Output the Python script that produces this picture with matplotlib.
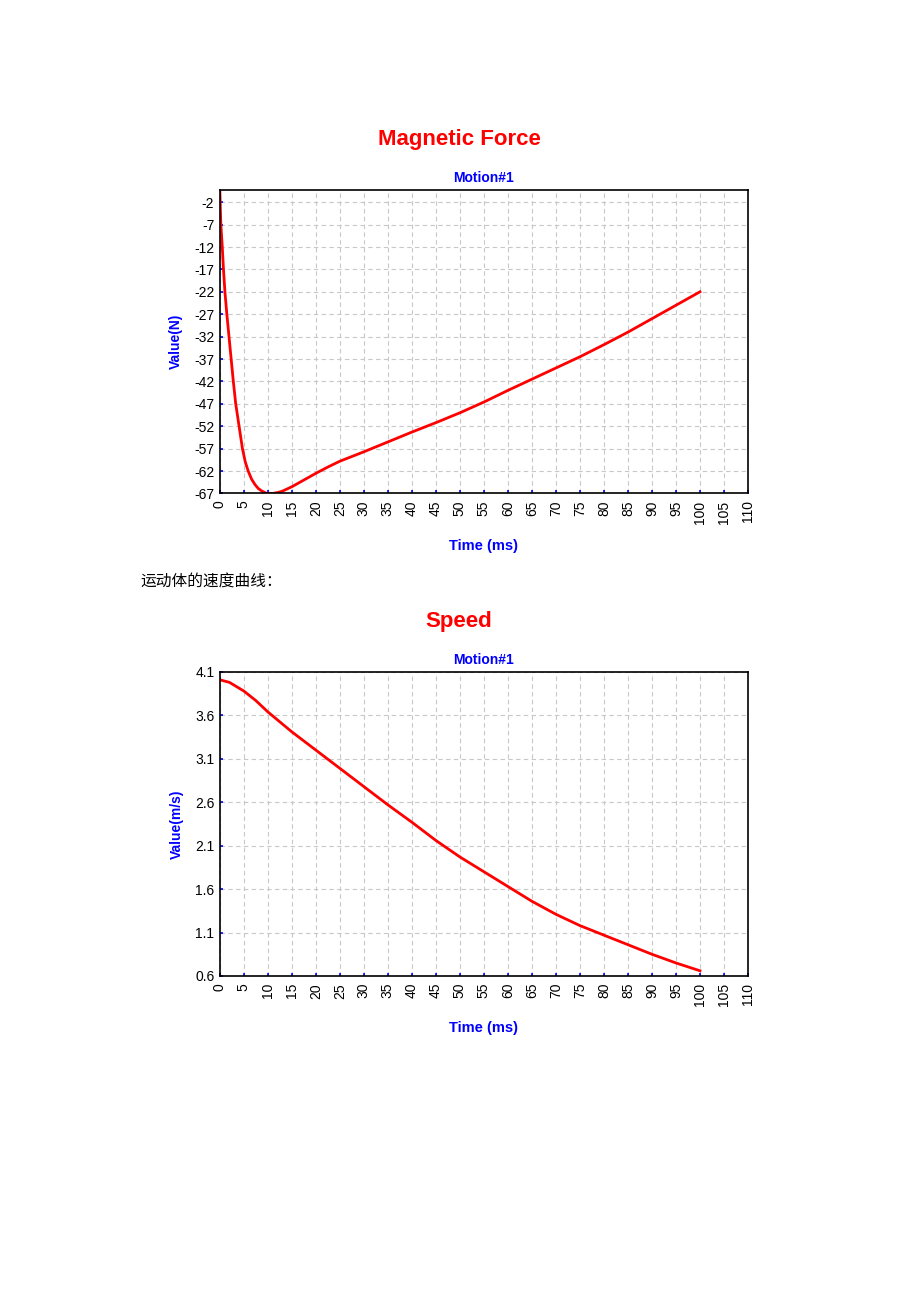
import numpy as np
import matplotlib
matplotlib.use("Agg")
import matplotlib.pyplot as plt

plt.rcParams['font.family'] = ['Liberation Sans', 'DejaVu Sans']

# -------- data --------
force_t = [0, 0.2, 0.5, 0.75, 1.05, 1.45, 1.9, 2.35, 2.8, 3.3, 4.0, 4.7, 5.3, 5.9,
           6.6, 7.3, 8.0, 8.8, 9.8, 11, 12, 13, 15, 17.5, 20, 22.5, 25, 30, 35,
           40, 45, 50, 55, 60, 65, 70, 75, 80, 85, 90, 95, 100]
force_v = [0.2, -7, -12, -17, -22, -27, -32, -37, -42, -47, -52, -57, -60, -62,
           -63.8, -65, -65.9, -66.5, -67, -67, -66.8, -66.5, -65.5, -64, -62.5,
           -61.1, -59.8, -57.7, -55.5, -53.3, -51.2, -49, -46.6, -44, -41.5, -39,
           -36.5, -33.8, -31, -28, -25, -22]

speed_t = [0, 2, 5, 7.5, 10, 15, 20, 25, 30, 35, 40, 45, 50, 55, 60, 65, 70, 75,
           80, 85, 90, 95, 100]
speed_v = [4.01, 3.98, 3.88, 3.77, 3.64, 3.41, 3.20, 2.99, 2.78, 2.57, 2.37, 2.16,
           1.97, 1.80, 1.63, 1.46, 1.31, 1.18, 1.07, 0.96, 0.85, 0.75, 0.66]

x_ticks = list(range(0, 111, 5))
force_ticks = list(range(-67, 0, 5))
speed_ticks = [0.6, 1.1, 1.6, 2.1, 2.6, 3.1, 3.6, 4.1]

fig = plt.figure(figsize=(9.2, 13.02), dpi=100)


def style_axes(ax, yticks, ylim, ylabel):
    ax.set_xlim(0, 110)
    ax.set_ylim(*ylim)
    ax.set_xticks(x_ticks)
    ax.set_yticks(yticks)
    ax.set_yticklabels([("%g" % v) for v in yticks])
    ax.tick_params(axis='both', direction='in', length=2.5, width=1.2,
                   color='blue', labelsize=10, pad=4, labelcolor='black')
    ax.tick_params(axis='x', labelrotation=90, pad=5)
    ax.grid(True, color='#c8c8c8', linestyle=(0, (4, 3)), linewidth=0.8)
    for s in ax.spines.values():
        s.set_color('black')
        s.set_linewidth(1.2)
    ax.set_ylabel(ylabel, color='blue', fontweight='bold', fontsize=10, labelpad=8)
    ax.set_xlabel('Time (ms)', color='blue', fontweight='bold', fontsize=10.5,
                  labelpad=11)
    ax.set_title('Motion#1', color='blue', fontweight='bold', fontsize=10, pad=6)


# -------- chart 1 --------
ax1 = fig.add_axes([0.239, 0.621, 0.574, 0.233])
ax1.plot(force_t, force_v, color='red', lw=2)
style_axes(ax1, force_ticks, (-67, 0.7), 'Value(N)')
fig.text(0.499, 1 - 140 / 1302, 'Magnetic Force', color='red', fontweight='bold',
         fontsize=16, ha='center', va='center')

fig.text(140 / 920, 1 - 582 / 1302, '运动体的速度曲线：', fontsize=11.3,
         family=['Noto Sans CJK SC', 'DejaVu Sans'], ha='left', va='center')

# -------- chart 2 --------
ax2 = fig.add_axes([0.239, 0.2504, 0.574, 0.2335])
ax2.plot(speed_t, speed_v, color='red', lw=2)
style_axes(ax2, speed_ticks, (0.6, 4.1), 'Value(m/s)')
fig.text(0.499, 1 - 622 / 1302, 'Speed', color='red', fontweight='bold',
         fontsize=16, ha='center', va='center')

plt.savefig("out.png", dpi=100)
plt.close()
